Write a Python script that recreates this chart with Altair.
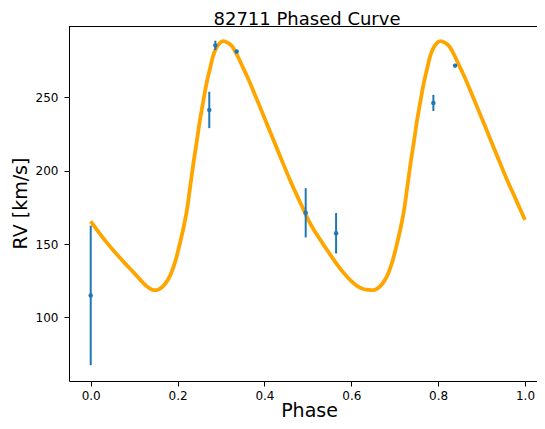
import altair as alt
import pandas as pd

# observed data points (phase, RV, error)
phase_pts = [0.000, 0.273, 0.287, 0.336, 0.495, 0.565, 0.789, 0.839]
rv_pts = [115.0, 241.4, 285.4, 281.2, 171.3, 157.4, 246.2, 271.6]
rv_err = [47.5, 12.4, 3.2, 1.2, 16.8, 13.8, 5.5, 1.2]

# model curve
curve_phase = [
    0.000, 0.020, 0.040, 0.060, 0.080, 0.100, 0.110, 0.120, 0.130, 0.140,
    0.148, 0.156, 0.165, 0.175, 0.185, 0.195, 0.205, 0.215, 0.222, 0.229,
    0.235, 0.244, 0.251, 0.259, 0.266, 0.275, 0.281, 0.288, 0.297, 0.306,
    0.315, 0.325, 0.336, 0.347, 0.359, 0.381, 0.400, 0.419, 0.438, 0.458,
    0.475, 0.490, 0.500,
    0.520, 0.540, 0.560, 0.580, 0.600, 0.615, 0.628, 0.640,
    0.648, 0.656, 0.665, 0.675, 0.685, 0.695, 0.705, 0.715, 0.722, 0.729,
    0.735, 0.744, 0.751, 0.759, 0.766, 0.775, 0.781, 0.788, 0.797, 0.806,
    0.815, 0.825, 0.836, 0.847, 0.859, 0.881, 0.900, 0.919, 0.938, 0.958,
    0.975, 0.990, 1.000,
]
curve_rv = [
    165.5, 157.5, 150.0, 143.0, 136.5, 130.3, 127.0, 123.8, 121.0, 119.1,
    118.6, 119.1, 120.8, 124.4, 130.0, 138.5, 150.0, 163.0, 174.0, 189.0,
    202.0, 219.5, 233.5, 247.0, 258.5, 270.0, 277.5, 283.0, 287.0, 288.3,
    287.3, 285.0, 279.5, 272.5, 265.0, 249.7, 236.0, 222.3, 208.5, 194.2,
    183.0, 173.5, 167.0,
    156.8, 147.8, 139.2, 131.2, 124.8, 121.2, 119.4, 118.8,
    118.6, 119.1, 120.8, 124.4, 130.0, 138.5, 150.0, 163.0, 174.0, 189.0,
    202.0, 219.5, 233.5, 247.0, 258.5, 270.0, 277.5, 283.0, 287.0, 288.3,
    287.3, 285.0, 279.5, 272.5, 265.0, 249.7, 236.0, 222.3, 208.5, 194.2,
    183.0, 173.0, 166.5,
]

x_ticks = [0.0, 0.2, 0.4, 0.6, 0.8, 1.0]
y_ticks = [100, 150, 200, 250]
title_text = "82711 Phased Curve"

pts = pd.DataFrame({
    "phase": phase_pts,
    "rv": rv_pts,
    "lo": [r - e for r, e in zip(rv_pts, rv_err)],
    "hi": [r + e for r, e in zip(rv_pts, rv_err)],
})
curve = pd.DataFrame({"phase": curve_phase, "rv": curve_rv})

W, H = 468, 355
xscale = alt.Scale(domain=[-0.05, 1.0276], nice=False, zero=False)
yscale = alt.Scale(domain=[56.7, 298.6], nice=False, zero=False)

xaxis = alt.Axis(
    title="Phase", values=x_ticks, format=".1f", grid=False,
    tickSize=5, labelPadding=4, titleX=240, titleY=35,
    titleBaseline="alphabetic", titleAlign="center",
)
yaxis = alt.Axis(
    title="RV [km/s]", values=y_ticks, format="d", grid=False,
    tickSize=5, labelPadding=6, titleX=-43, titleY=177,
    titleBaseline="alphabetic", titleAlign="center", titleAngle=270,
)

X = alt.X("phase:Q", scale=xscale, axis=xaxis)

line = alt.Chart(curve).mark_line(
    color="#FFA500", strokeWidth=3.8, interpolate="monotone", clip=True
).encode(x=X, y=alt.Y("rv:Q", scale=yscale, axis=yaxis))

bars = alt.Chart(pts).mark_rule(color="#1f77b4", strokeWidth=2).encode(
    x=X, y=alt.Y("lo:Q", scale=yscale, axis=yaxis), y2="hi:Q",
)

dots = alt.Chart(pts).mark_circle(color="#1f77b4", size=20, opacity=1).encode(
    x=X, y=alt.Y("rv:Q", scale=yscale, axis=yaxis),
)

frame_top = alt.Chart(pd.DataFrame({"a": [0]})).mark_rule(
    color="black", strokeWidth=1
).encode(x=alt.value(0), x2=alt.value(W), y=alt.value(0.5))

title = alt.Chart(pd.DataFrame({"t": [title_text]})).mark_text(
    font="DejaVu Sans", fontSize=18, color="black", align="center",
    baseline="alphabetic",
).encode(text="t:N", x=alt.value(238), y=alt.value(-1.1))

chart = alt.layer(line, bars, dots, frame_top, title).properties(
    width=W,
    height=H,
    autosize=alt.AutoSizeParams(type="none"),
    padding={"left": 61, "top": 18, "right": 0, "bottom": 40},
).configure_view(stroke=None).configure_axis(
    domainColor="black", tickColor="black", labelColor="black",
    titleColor="black", labelFont="DejaVu Sans", titleFont="DejaVu Sans",
    labelFontSize=12, titleFontSize=19, titleFontWeight="normal",
    domainWidth=1, tickWidth=1,
)

chart.save("out.html", embed_options={"renderer": "svg", "actions": False})
